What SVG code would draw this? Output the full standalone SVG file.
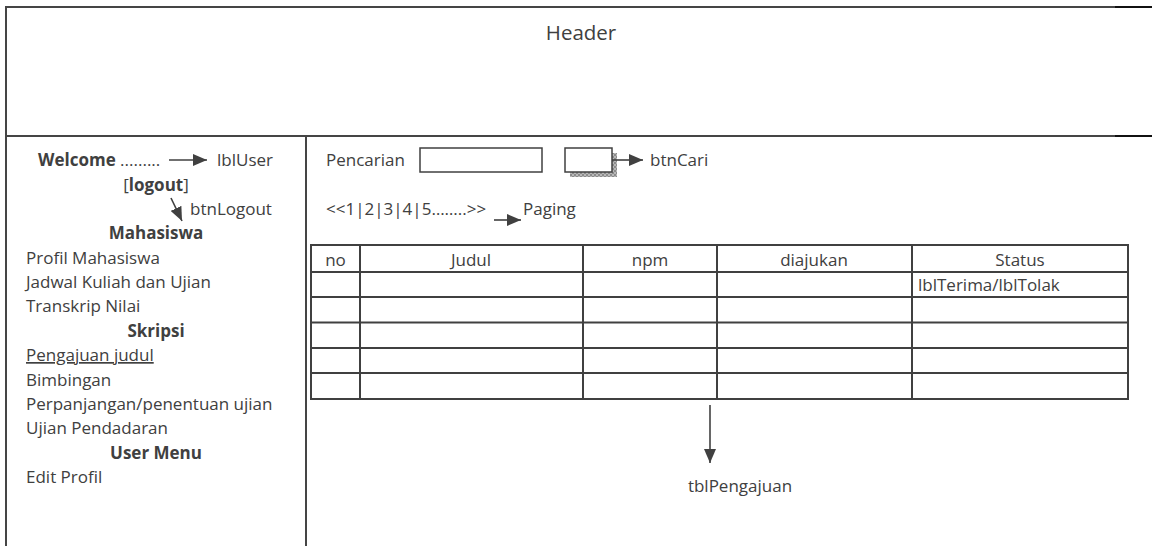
<svg xmlns="http://www.w3.org/2000/svg" width="1152" height="546" viewBox="0 0 1152 546">
<style>
  text { font-family: "Open Sans", "Liberation Sans", sans-serif; font-size: 17px; fill: #404040; }
  .b { font-weight: bold; }
  .c { text-anchor: middle; }
  .frame { stroke: #454545; stroke-width: 2; fill: none; }
  .tbl { stroke: #404040; stroke-width: 2; fill: none; }
  .box { stroke: #404040; stroke-width: 1.5; fill: #ffffff; }
  .conn { stroke: #404040; stroke-width: 1.6; fill: none; marker-end: url(#ah); }
</style>
<defs>
  <marker id="ah" markerUnits="userSpaceOnUse" markerWidth="14" markerHeight="12" refX="14" refY="6" orient="auto">
    <path d="M0,0 L14,6 L0,12 z" fill="#404040"/>
  </marker>
  <pattern id="chk" width="4" height="4" patternUnits="userSpaceOnUse">
    <rect width="4" height="4" fill="#b8b8b8"/>
    <rect width="2" height="2" fill="#8c8c8c"/>
    <rect x="2" y="2" width="2" height="2" fill="#8c8c8c"/>
  </pattern>
</defs>
<rect width="1152" height="546" fill="#ffffff"/>

<g id="frame">
  <line class="frame" x1="6" y1="7" x2="1152" y2="7"/>
  <line x1="1115" y1="7" x2="1152" y2="7" stroke="#111" stroke-width="2"/>
  <line class="frame" x1="6" y1="136" x2="1152" y2="136"/>
  <line x1="1115" y1="136" x2="1152" y2="136" stroke="#111" stroke-width="2"/>
  <line class="frame" x1="6" y1="6" x2="6" y2="546"/>
  <line class="frame" x1="306" y1="136" x2="306" y2="546"/>
</g>

<g id="header">
  <text x="581" y="40" class="c" style="font-size:20.5px">Header</text>
</g>

<g id="sidebar">
  <text x="38" y="166"><tspan class="b">Welcome</tspan> .........</text>
  <text x="217" y="166">lblUser</text>
  <text x="156" y="190.5" class="c">[<tspan class="b">logout</tspan>]</text>
  <text x="190" y="215">btnLogout</text>
  <text x="156" y="239" class="c b">Mahasiswa</text>
  <text x="26" y="263.5">Profil Mahasiswa</text>
  <text x="26" y="288">Jadwal Kuliah dan Ujian</text>
  <text x="26" y="312">Transkrip Nilai</text>
  <text x="156" y="336.5" class="c b">Skripsi</text>
  <text x="26" y="361" text-decoration="underline">Pengajuan judul</text>
  <text x="26" y="385.5">Bimbingan</text>
  <text x="26" y="410">Perpanjangan/penentuan ujian</text>
  <text x="26" y="434">Ujian Pendadaran</text>
  <text x="156" y="458.5" class="c b">User Menu</text>
  <text x="26" y="483">Edit Profil</text>
</g>

<g id="search">
  <text x="326" y="166">Pencarian</text>
  <rect class="box" x="420" y="148" width="122" height="24"/>
  <rect x="570" y="172" width="47" height="5" fill="url(#chk)"/>
  <rect x="612" y="153" width="5" height="24" fill="url(#chk)"/>
  <rect class="box" x="565" y="148" width="47" height="24"/>
  <text x="650" y="166">btnCari</text>
</g>

<g id="paging">
  <text x="326" y="215">&lt;&lt;1|2|3|4|5……..&gt;&gt;</text>
  <text x="523" y="215">Paging</text>
</g>

<g id="tblPengajuan">
  <rect class="tbl" x="311" y="245" width="817" height="154"/>
  <line class="tbl" x1="311" y1="272" x2="1128" y2="272"/>
  <line class="tbl" x1="311" y1="297" x2="1128" y2="297"/>
  <line class="tbl" x1="311" y1="322.5" x2="1128" y2="322.5"/>
  <line class="tbl" x1="311" y1="348" x2="1128" y2="348"/>
  <line class="tbl" x1="311" y1="373" x2="1128" y2="373"/>
  <line class="tbl" x1="360" y1="245" x2="360" y2="399"/>
  <line class="tbl" x1="583" y1="245" x2="583" y2="399"/>
  <line class="tbl" x1="717" y1="245" x2="717" y2="399"/>
  <line class="tbl" x1="912" y1="245" x2="912" y2="399"/>
  <text x="335.5" y="266" class="c">no</text>
  <text x="471" y="266" class="c">Judul</text>
  <text x="650" y="266" class="c">npm</text>
  <text x="814" y="266" class="c">diajukan</text>
  <text x="1020" y="266" class="c">Status</text>
  <text x="918" y="291">lblTerima/lblTolak</text>
  <text x="740" y="492" class="c">tblPengajuan</text>
</g>

<g id="connectors">
  <line class="conn" x1="169" y1="160" x2="207" y2="160"/>
  <line class="conn" x1="171" y1="198" x2="182" y2="221"/>
  <line class="conn" x1="612" y1="160" x2="643" y2="160"/>
  <line class="conn" x1="494" y1="220" x2="521" y2="220"/>
  <line class="conn" x1="710" y1="405" x2="710" y2="463"/>
</g>
</svg>
